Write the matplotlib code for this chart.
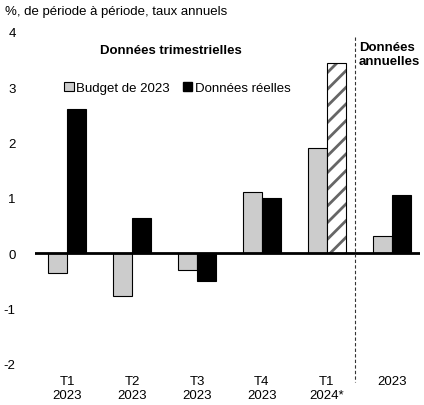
import numpy as np
import matplotlib.pyplot as plt
from matplotlib.patches import Patch

plt.rcParams['font.family'] = ['Liberation Sans', 'DejaVu Sans']
plt.rcParams['axes.unicode_minus'] = False
plt.rcParams['hatch.linewidth'] = 2.0

categories = ["T1\n2023", "T2\n2023", "T3\n2023", "T4\n2023", "T1\n2024*", "2023"]
budget = [-0.35, -0.78, -0.31, 1.11, 1.90, 0.31]
actual = [2.60, 0.63, -0.50, 0.99, 3.43, 1.06]
estimated = [False, False, False, False, True, False]

fig = plt.figure(figsize=(4.24, 4.06), dpi=100)
ax = fig.add_axes([0.083, 0.101, 0.907, 0.818])

x = np.arange(len(categories))
w = 0.29
ax.bar(x - w / 2, budget, w, color="#cccccc", edgecolor="black", linewidth=0.8)
for xi, v, est in zip(x, actual, estimated):
    if est:
        # gray hatch first, then a black outline on top
        ax.bar(xi + w / 2, v, w, color="white", edgecolor="#666666", linewidth=0, hatch="//")
        ax.bar(xi + w / 2, v, w, fill=False, edgecolor="black", linewidth=0.8)
    else:
        ax.bar(xi + w / 2, v, w, color="black", edgecolor="black", linewidth=0.8)

ax.axhline(0, color="black", linewidth=2)
ax.plot([4.43, 4.43], [3.9, -2.33], color="#333333", linestyle=(0, (3, 2)), linewidth=0.8, clip_on=False)

ax.set_xlim(-0.49, 5.43)
ax.set_ylim(-2, 4)
ax.set_xticks(x)
ax.set_xticklabels(categories, fontsize=9.5)
ax.set_yticks([-2, -1, 0, 1, 2, 3, 4])
ax.tick_params(length=0, labelsize=9.5)
ax.tick_params(axis="y", pad=14)
ax.tick_params(axis="x", pad=8)
for s in ax.spines.values():
    s.set_visible(False)

ax.text(1.6, 3.67, "Données trimestrielles", fontsize=9.5, fontweight="bold", ha="center", va="center")
ax.text(4.49, 3.6, "Données\nannuelles", fontsize=9.5, fontweight="bold", ha="left", va="center")
fig.text(0.012, 0.97, "%, de période à période, taux annuels", fontsize=9.5, ha="left", va="center")

handles = [Patch(facecolor="#cccccc", edgecolor="black", linewidth=0.8, label="Budget de 2023"),
           Patch(facecolor="black", edgecolor="black", label="Données réelles")]
ax.legend(handles=handles, loc="center", bbox_to_anchor=(0.37, 0.83), ncol=2, frameon=False,
          fontsize=9.5, handlelength=0.7, handleheight=0.7, handletextpad=0.2, columnspacing=1.0)

plt.savefig("out.png")
plt.close()
